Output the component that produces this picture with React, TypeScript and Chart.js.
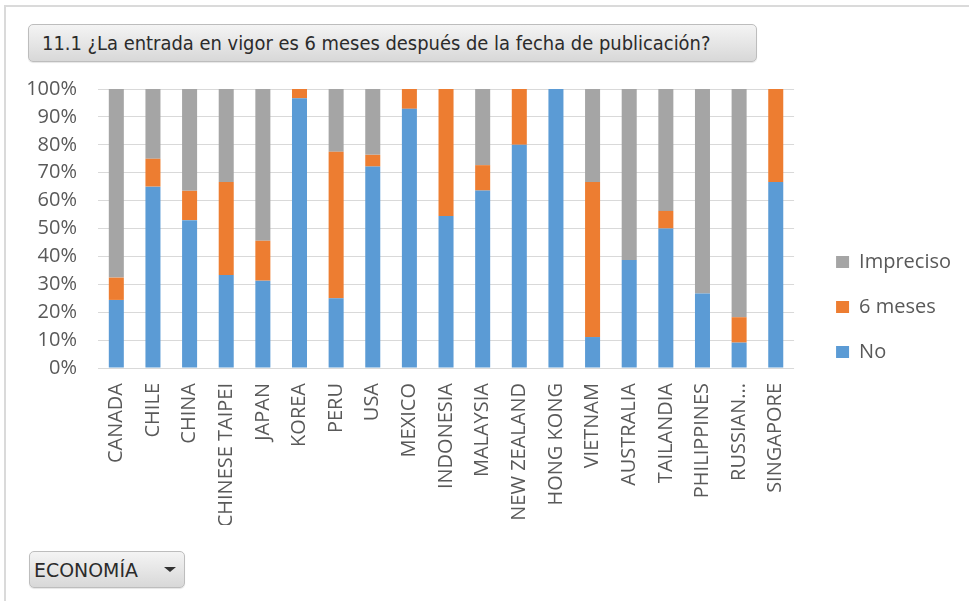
import React, { useEffect, useLayoutEffect, useRef, useState } from 'react';
import { Chart, registerables } from 'chart.js';

Chart.register(...registerables);

const titleText = '11.1 ¿La entrada en vigor es 6 meses después de la fecha de publicación?';
const filterText = 'ECONOMÍA';

const categories = [
  'CANADA', 'CHILE', 'CHINA', 'CHINESE TAIPEI', 'JAPAN', 'KOREA', 'PERU', 'USA', 'MEXICO',
  'INDONESIA', 'MALAYSIA', 'NEW ZEALAND', 'HONG KONG', 'VIETNAM', 'AUSTRALIA', 'TAILANDIA',
  'PHILIPPINES', 'RUSSIAN...', 'SINGAPORE',
];
const seriesNames = ['No', '6 meses', 'Impreciso'];
const noValues = [24.4, 65, 53, 33.3, 31.3, 96.7, 25, 72.2, 92.9, 54.5, 63.6, 80, 100, 11.1, 38.7, 50, 26.7, 9.1, 66.7];
const sixMonthValues = [8, 10, 10.5, 33.4, 14.3, 3.3, 52.5, 4.2, 7.1, 45.5, 9.1, 20, 0, 55.6, 0, 6.3, 0, 9.1, 33.3];
const impreciseValues = [67.6, 25, 36.5, 33.3, 54.4, 0, 22.5, 23.6, 0, 0, 27.3, 0, 0, 33.3, 61.3, 43.7, 73.3, 81.8, 0];
const yMin = 0;
const yMax = 100;
const yStep = 10;

const colors = ['#5B9BD5', '#ED7D31', '#A5A5A5'];
const FONT = "'Open Sans', 'DejaVu Sans', sans-serif";
const BTN_FONT = "'DejaVu Sans', sans-serif";

function FitText({ text, width, size }: { text: string; width: number; size: number }) {
  const ref = useRef<HTMLSpanElement>(null);
  const [scale, setScale] = useState(1);
  useLayoutEffect(() => {
    if (ref.current) {
      const w = ref.current.offsetWidth;
      if (w > 0) setScale(width / w);
    }
  }, [text, width]);
  return (
    <span
      ref={ref}
      style={{
        display: 'inline-block',
        whiteSpace: 'nowrap',
        fontFamily: BTN_FONT,
        fontSize: size,
        color: '#2b2b2b',
        transform: `scaleX(${scale})`,
        transformOrigin: 'left center',
      }}
    >
      {text}
    </span>
  );
}

const btnStyle: React.CSSProperties = {
  position: 'absolute',
  boxSizing: 'border-box',
  border: '1px solid #BDBDBD',
  borderRadius: 5,
  background: 'linear-gradient(#F4F4F4, #D8D8D8)',
  display: 'flex',
  alignItems: 'center',
  boxShadow: '0 1px 1px rgba(0,0,0,0.1)',
};

export default function App() {
  const canvasRef = useRef<HTMLCanvasElement>(null);

  useEffect(() => {
    document.body.style.margin = '0';
    const tickFont = { family: FONT, size: 20 };
    const chart = new Chart(canvasRef.current as HTMLCanvasElement, {
      type: 'bar',
      data: {
        labels: categories,
        datasets: [
          { label: seriesNames[0], data: noValues, backgroundColor: colors[0] },
          { label: seriesNames[1], data: sixMonthValues, backgroundColor: colors[1] },
          { label: seriesNames[2], data: impreciseValues, backgroundColor: colors[2] },
        ],
      },
      options: {
        animation: false,
        responsive: false,
        maintainAspectRatio: false,
        layout: { padding: { top: 19, left: 0, right: 8, bottom: 25 } },
        datasets: { bar: { categoryPercentage: 1, barPercentage: 0.41 } },
        plugins: {
          legend: {
            position: 'right',
            reverse: true,
            labels: {
              boxWidth: 13,
              boxHeight: 12,
              padding: 25,
              color: '#595959',
              font: { family: FONT, size: 20 },
            },
          },
          tooltip: { enabled: false },
        },
        scales: {
          x: {
            stacked: true,
            grid: { display: false, drawTicks: false },
            border: { display: false },
            ticks: {
              autoSkip: false,
              minRotation: 90,
              maxRotation: 90,
              padding: 15,
              color: '#595959',
              font: tickFont,
            },
            afterFit: (s: any) => {
              s.height = 157;
            },
          },
          y: {
            stacked: true,
            min: yMin,
            max: yMax,
            ticks: {
              stepSize: yStep,
              autoSkip: false,
              callback: (v: any) => v + '%',
              padding: 21,
              color: '#595959',
              font: tickFont,
            },
            grid: { color: '#D9D9D9', drawTicks: false, lineWidth: 1 },
            border: { display: false },
            afterFit: (s: any) => {
              s.width = 98;
              s.paddingTop = 8;
              s.paddingBottom = 8;
            },
          },
          gap: {
            type: 'linear',
            position: 'right',
            display: true,
            grid: { display: false, drawTicks: false },
            border: { display: false },
            ticks: { display: false },
            afterFit: (s: any) => {
              s.width = 17;
              s.paddingTop = 0;
              s.paddingBottom = 0;
            },
          },
        },
      } as any,
    });
    return () => chart.destroy();
  }, []);

  return (
    <div style={{ position: 'relative', width: 969, height: 601, background: '#fff', overflow: 'hidden' }}>
      <div
        style={{
          position: 'absolute',
          left: 4,
          top: 5,
          width: 1000,
          height: 700,
          borderLeft: '2px solid #DADADA',
          borderTop: '2px solid #DADADA',
        }}
      />
      <div style={{ ...btnStyle, left: 28, top: 24, width: 729, height: 38, paddingLeft: 13 }}>
        <FitText text={titleText} width={668} size={20} />
      </div>
      <canvas
        ref={canvasRef}
        width={969}
        height={480}
        style={{ position: 'absolute', left: 0, top: 70, width: 969, height: 480 }}
      />
      <div style={{ ...btnStyle, left: 29, top: 551, width: 156, height: 37, paddingLeft: 4 }}>
        <FitText text={filterText} width={104} size={20} />
        <div
          style={{
            position: 'absolute',
            left: 134,
            top: 15,
            width: 0,
            height: 0,
            borderLeft: '6px solid transparent',
            borderRight: '6px solid transparent',
            borderTop: '5px solid #333',
          }}
        />
      </div>
    </div>
  );
}
